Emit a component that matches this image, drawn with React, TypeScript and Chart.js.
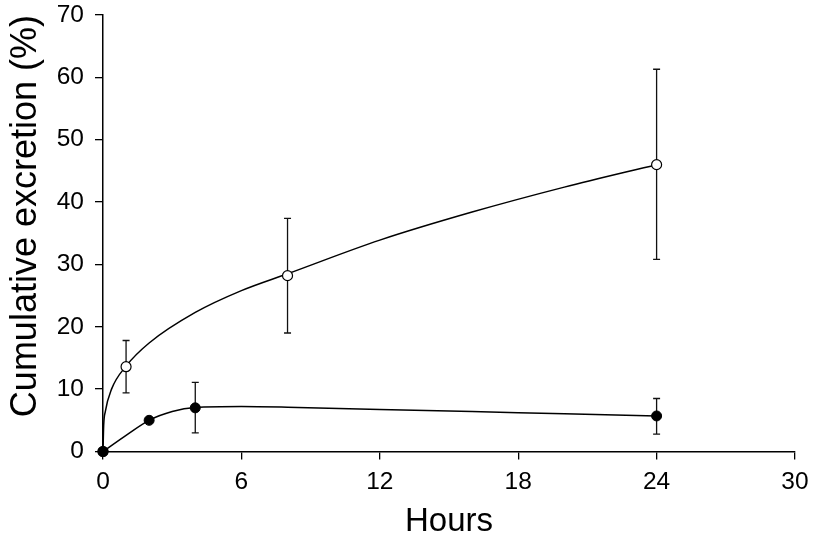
import React, { useEffect, useRef } from "react";
import { Chart, registerables } from "chart.js";

Chart.register(...registerables);

// Measured points (hours, cumulative excretion %)
const openHours = [0, 1, 8, 24];
const openValues = [0, 13.6, 28.2, 46.0];
const openErrLow = [null, 9.4, 19.0, 30.8];
const openErrHigh = [null, 17.8, 37.4, 61.3];

const filledHours = [0, 2, 4, 24];
const filledValues = [0, 5.0, 7.0, 5.7];
const filledErrLow = [null, null, 3.0, 2.8];
const filledErrHigh = [null, null, 11.1, 8.5];

// Fitted curves
const openFitHours = [0, 0.03, 0.1, 0.37, 1, 2, 4, 6, 8, 12, 16, 20, 24];
const openFitValues = [0, 4.2, 6.4, 10, 13.7, 17.4, 22.3, 25.8, 28.5, 33.9, 38.4, 42.4, 46.0];

const filledFitHours = [0, 1, 2, 3, 4, 6, 8, 12, 16, 20, 24];
const filledFitValues = [0, 2.6, 5.0, 6.4, 7.05, 7.2, 7.1, 6.75, 6.4, 6.05, 5.7];

// Axes
const xTickStep = 6;
const xMin = 0;
const xMax = 30;
const yTickStep = 10;
const yMin = 0;
const yMax = 70;

const FONT = "'Liberation Sans', Arial, Helvetica, sans-serif";

const toXY = (xs: number[], ys: number[]) => xs.map((x, i) => ({ x, y: ys[i] }));

const errorBarPlugin = {
  id: "errorBars",
  beforeDatasetsDraw(chart: any) {
    const { ctx, scales } = chart;
    const xs = scales.x;
    const ys = scales.y;
    ctx.save();
    ctx.strokeStyle = "#111";
    ctx.lineWidth = 1.3;
    const cap = 3.5;
    const draw = (hx: number[], lo: (number | null)[], hi: (number | null)[]) => {
      hx.forEach((h, i) => {
        const l = lo[i];
        const u = hi[i];
        if (l == null || u == null) return;
        const px = xs.getPixelForValue(h);
        const pl = ys.getPixelForValue(l);
        const pu = ys.getPixelForValue(u);
        ctx.beginPath();
        ctx.moveTo(px, pl);
        ctx.lineTo(px, pu);
        ctx.moveTo(px - cap, pl);
        ctx.lineTo(px + cap, pl);
        ctx.moveTo(px - cap, pu);
        ctx.lineTo(px + cap, pu);
        ctx.stroke();
      });
    };
    draw(openHours, openErrLow, openErrHigh);
    draw(filledHours, filledErrLow, filledErrHigh);
    ctx.restore();
  },
};

export default function App() {
  const ref = useRef<HTMLCanvasElement | null>(null);

  useEffect(() => {
    if (!ref.current) return;
    const chart = new Chart(ref.current, {
      type: "scatter",
      data: {
        datasets: [
          {
            label: "filled",
            data: toXY(filledHours, filledValues),
            showLine: false,
            pointRadius: 5,
            pointBackgroundColor: "#000",
            pointBorderColor: "#000",
            pointBorderWidth: 1,
            clip: false,
          },
          {
            label: "open",
            data: toXY(openHours, openValues),
            showLine: false,
            pointRadius: 5,
            pointBackgroundColor: "#fff",
            pointBorderColor: "#000",
            pointBorderWidth: 1.2,
            clip: false,
          },
          {
            label: "filled fit",
            data: toXY(filledFitHours, filledFitValues),
            showLine: true,
            pointRadius: 0,
            borderColor: "#000",
            borderWidth: 1.5,
            cubicInterpolationMode: "monotone",
            clip: false,
          },
          {
            label: "open fit",
            data: toXY(openFitHours, openFitValues),
            showLine: true,
            pointRadius: 0,
            borderColor: "#000",
            borderWidth: 1.5,
            cubicInterpolationMode: "monotone",
            clip: false,
          },
        ],
      } as any,
      options: {
        responsive: false,
        animation: false,
        layout: { padding: { top: 15, right: 20, left: 0, bottom: 0 } },
        plugins: {
          legend: { display: false },
          tooltip: { enabled: false },
        },
        scales: {
          x: {
            type: "linear",
            min: xMin,
            max: xMax,
            ticks: {
              stepSize: xTickStep,
              color: "#000",
              font: { family: FONT, size: 24.5 },
              padding: 8,
              maxRotation: 0,
            },
            grid: {
              drawOnChartArea: false,
              drawTicks: true,
              tickLength: 8,
              color: "#000",
              lineWidth: 1.3,
            },
            border: { color: "#000", width: 1.5 },
            title: {
              display: true,
              text: "Hours",
              color: "#000",
              font: { family: FONT, size: 33 },
              padding: { top: 0, bottom: 0 },
            },
            afterFit: (s: any) => {
              s.height = 90.5;
              s.paddingLeft = 0;
              s.paddingRight = 0;
            },
          },
          y: {
            type: "linear",
            min: yMin,
            max: yMax,
            ticks: {
              stepSize: yTickStep,
              color: "#000",
              font: { family: FONT, size: 24.5 },
              padding: 11,
            },
            grid: {
              drawOnChartArea: false,
              drawTicks: true,
              tickLength: 8,
              color: "#000",
              lineWidth: 1.3,
            },
            border: { color: "#000", width: 1.5 },
            title: {
              display: true,
              text: "Cumulative excretion (%)",
              align: "end",
              color: "#000",
              font: { family: FONT, size: 36 },
              padding: { top: 4, bottom: 0 },
            },
            afterFit: (s: any) => {
              s.width = 103;
              s.paddingTop = 0;
              s.paddingBottom = 0;
            },
          },
        },
      } as any,
      plugins: [errorBarPlugin],
    });
    return () => chart.destroy();
  }, []);

  return (
    <div style={{ position: "absolute", left: 0, top: 0, width: 815, height: 542, background: "#fff" }}>
      <canvas ref={ref} width={815} height={542} />
    </div>
  );
}
